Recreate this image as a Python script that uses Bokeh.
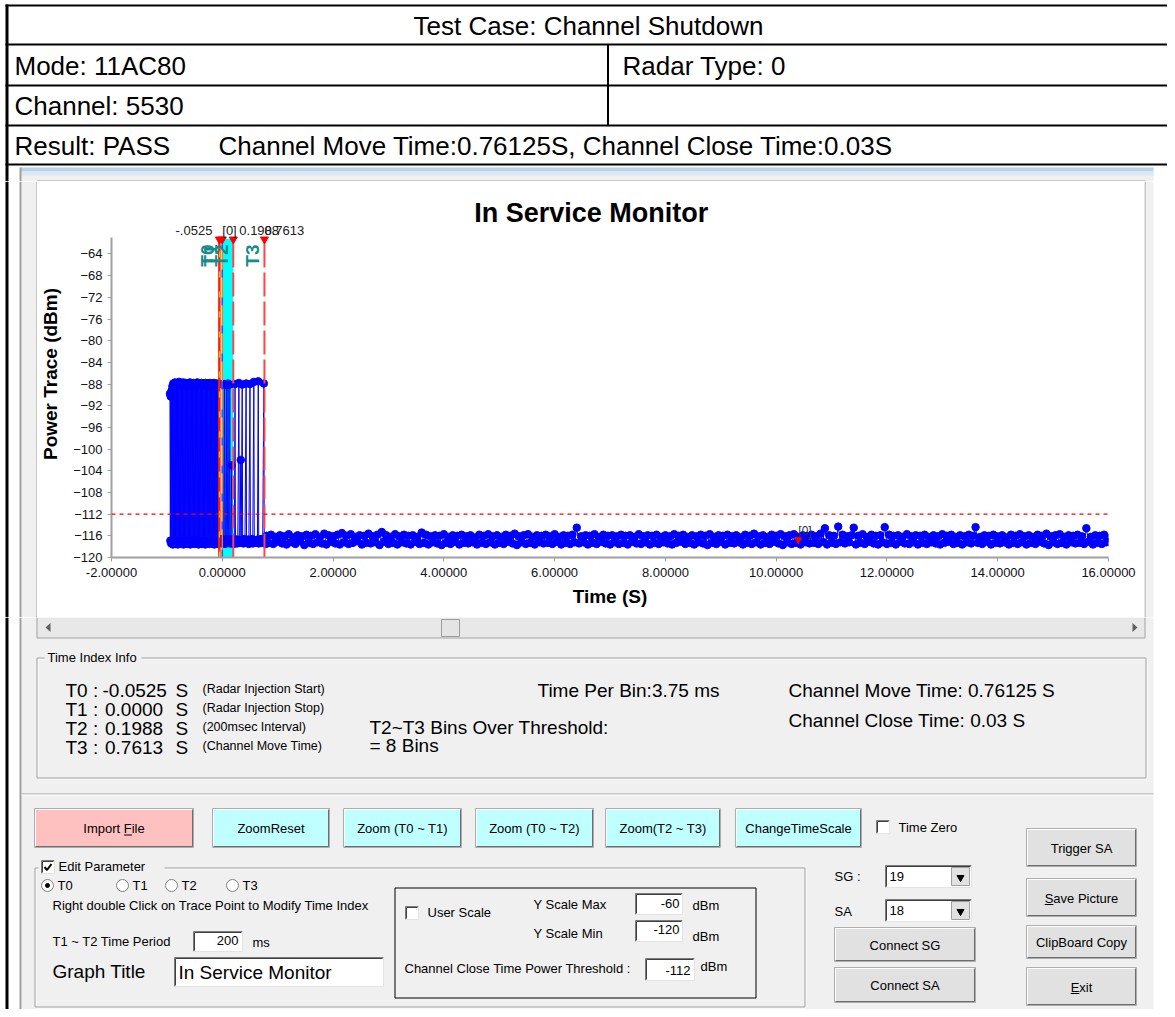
from math import pi
from bokeh.plotting import figure
from bokeh.layouts import column, row
from bokeh.models import Range1d, FixedTicker, PrintfTickFormatter, Span
from bokeh.core.properties import value
from bokeh.embed import file_html
from bokeh.resources import INLINE

FONT = "Liberation Sans"

# ------------------------------------------------------------------ data
table_title = "Test Case: Channel Shutdown"
mode_text = "Mode: 11AC80"
radar_text = "Radar Type: 0"
channel_text = "Channel: 5530"
result_text = "Result: PASS"
result_detail = "Channel Move Time:0.76125S, Channel Close Time:0.03S"

chart_title = "In Service Monitor"
x_label = "Time (S)"
y_label = "Power Trace (dBm)"
x_ticks = [-2, 0, 2, 4, 6, 8, 10, 12, 14, 16]
y_ticks = [-120, -116, -112, -108, -104, -100, -96, -92, -88, -84, -80, -76, -72, -68, -64]

t_names = ["T0", "T1", "T2", "T3"]
t_values = [-0.0525, 0.0, 0.1988, 0.7613]
t_top_labels = ["-.0525", "[0]", "0.1988", "0.7613"]
t_notes = ["(Radar Injection Start)", "(Radar Injection Stop)", "(200msec Interval)", "(Channel Move Time)"]
t_value_text = ["-0.0525", "0.0000", "0.1988", "0.7613"]
threshold_dbm = -112
marker0_t = 10.40
marker0_db = -116.7

# radar burst: alternating high / low bins
burst_start = -0.945
burst_pair_step = 0.015
burst_hi = [-89.8, -90.3, -89.2, -88.4, -87.9, -88.2, -87.7, -88.0, -88.3, -87.8,
            -88.1, -87.6, -88.2, -88.0, -87.9, -88.3, -87.7, -88.1, -88.0, -87.8,
            -88.2, -87.9, -88.4, -88.0, -87.7, -88.1, -87.9, -88.2, -87.8, -88.0,
            -88.3, -87.9, -88.1, -87.7, -88.0, -88.2, -87.9, -88.1, -87.8, -88.3,
            -88.0, -87.9, -88.2, -87.8, -88.0, -88.1, -87.9, -88.3, -87.8, -88.0,
            -88.2, -87.9, -88.1, -87.8, -88.0, -88.2, -87.9, -88.1, -88.0, -87.9]
burst_lo = [-116.9, -117.4, -117.1, -117.6, -117.2, -116.9, -117.5, -117.3, -117.0, -117.6,
            -117.2, -117.4, -116.9, -117.5, -117.1, -117.3, -117.6, -117.0, -117.4, -117.2,
            -116.9, -117.5, -117.3, -117.1, -117.6, -117.2, -117.0, -117.4, -117.3, -117.5,
            -117.1, -116.9, -117.4, -117.2, -117.6, -117.0, -117.3, -117.5, -117.1, -117.4,
            -117.2, -116.9, -117.6, -117.3, -117.0, -117.4, -117.2, -117.5, -117.1, -117.3,
            -116.9, -117.4, -117.2, -117.6, -117.0, -117.3, -117.5, -117.1, -117.4, -117.2]

# after radar stop: floor with isolated bins over threshold
mid_t = [-0.040, -0.025, -0.010, 0.000, 0.008, 0.016, 0.030, 0.040, 0.048, 0.060,
         0.072, 0.080, 0.092, 0.104, 0.112, 0.125, 0.136, 0.144, 0.158, 0.170,
         0.178, 0.192, 0.205, 0.218, 0.230, 0.238, 0.252, 0.266, 0.280, 0.300,
         0.308, 0.322, 0.334, 0.342, 0.360, 0.368, 0.382, 0.396, 0.410, 0.430,
         0.438, 0.452, 0.466, 0.480, 0.500, 0.508, 0.522, 0.536, 0.550, 0.570,
         0.578, 0.592, 0.606, 0.620, 0.635, 0.650, 0.658, 0.672, 0.686, 0.700,
         0.715, 0.730, 0.750, 0.758, 0.772, 0.786]
mid_db = [-117.3, -116.6, -117.4, -116.9, -88.1, -117.2, -116.7, -88.0, -117.5, -116.8,
          -88.2, -117.1, -116.6, -87.9, -117.3, -116.9, -88.1, -117.4, -116.7, -103.0,
          -117.2, -116.8, -117.5, -116.6, -88.0, -117.1, -116.9, -117.4, -116.7, -87.8,
          -117.2, -116.8, -102.0, -117.3, -88.1, -116.9, -117.4, -116.6, -117.2, -87.9,
          -116.8, -117.3, -116.7, -117.5, -88.0, -116.9, -117.2, -116.6, -117.4, -87.6,
          -116.8, -117.3, -116.9, -117.1, -116.7, -87.5, -117.4, -116.8, -117.2, -116.6,
          -117.3, -116.9, -87.9, -117.2, -116.7, -117.5]

# noise floor after channel move (one value every 40 ms)
noise_start = 0.80
noise_step = 0.04
noise_db = [
    -116.0, -117.3, -115.8, -117.5, -116.2, -117.1, -115.9, -117.4, -116.1, -117.6, -115.7, -117.2, -116.3, -117.5, -115.9, -117.0, -116.1, -117.7, -115.8, -117.3,
    -116.0, -117.5, -115.7, -117.2, -116.2, -117.4, -115.6, -117.6, -115.9, -117.1, -116.1, -117.4, -115.8, -117.6, -115.5, -117.2, -116.0, -117.5, -115.7, -117.3,
    -116.2, -117.0, -115.9, -117.6, -116.0, -117.3, -115.6, -117.4, -116.1, -117.2, -115.8, -117.7, -115.3, -117.1, -115.9, -117.5, -116.2, -117.3, -115.7, -117.6,
    -116.1, -117.2, -115.8, -117.4, -116.0, -117.6, -115.9, -117.1, -116.2, -117.5, -115.4, -117.3, -115.8, -117.6, -116.1, -117.2, -115.9, -117.4, -116.0, -117.7,
    -115.7, -117.3, -116.2, -117.5, -115.9, -117.1, -116.0, -117.6, -115.8, -117.3, -116.1, -117.4, -115.9, -117.2, -116.3, -117.6, -115.8, -117.3, -116.0, -117.5,
    -115.7, -117.2, -116.1, -117.6, -115.9, -117.3, -116.2, -117.5, -115.8, -117.1, -116.0, -117.4, -115.6, -117.7, -116.1, -117.2, -115.9, -117.5, -115.7, -117.3,
    -116.2, -117.6, -115.9, -117.2, -116.0, -117.4, -115.8, -117.3, -116.1, -117.5, -115.7, -117.1, -116.2, -117.6, -115.9, -117.3, -116.0, -117.5, -115.8, -117.2,
    -114.5, -117.4, -116.1, -117.2, -115.9, -117.6, -116.0, -117.3, -115.7, -117.5, -116.2, -117.1, -115.8, -117.4, -116.0, -117.6, -115.9, -117.2, -116.1, -117.5,
    -115.8, -117.3, -116.0, -117.6, -115.9, -117.1, -116.2, -117.4, -115.7, -117.5, -116.1, -117.2, -115.9, -117.6, -116.0, -117.3, -115.8, -117.5, -116.2, -117.2,
    -115.9, -117.4, -116.1, -117.6, -115.7, -117.3, -116.0, -117.1, -115.8, -117.5, -116.2, -117.3, -115.9, -117.6, -116.1, -117.2, -115.8, -117.4, -116.0, -117.7,
    -115.7, -117.3, -116.2, -117.5, -115.9, -117.1, -116.0, -117.6, -115.8, -117.3, -116.1, -117.4, -115.9, -117.2, -116.3, -117.6, -115.8, -117.3, -116.0, -117.5,
    -115.6, -117.2, -116.1, -117.6, -115.9, -117.3, -116.2, -117.5, -115.8, -117.1, -116.0, -117.4, -115.7, -117.7, -116.1, -117.2, -115.9, -117.5, -115.7, -117.3,
    -116.2, -117.6, -115.9, -117.2, -116.0, -117.4, -115.8, -117.3, -116.1, -117.5, -115.6, -117.1, -114.6, -117.6, -115.9, -117.3, -116.0, -117.5, -114.3, -117.2,
    -115.8, -117.4, -116.1, -117.2, -115.9, -114.5, -117.6, -116.0, -117.3, -115.7, -117.5, -116.2, -117.1, -115.8, -117.4, -116.0, -117.6, -115.9, -117.2, -114.4,
    -117.5, -115.8, -117.3, -116.0, -117.6, -115.9, -117.1, -116.2, -117.4, -115.7, -117.5, -116.1, -117.2, -115.9, -117.6, -116.0, -117.3, -115.8, -117.5, -116.2,
    -117.2, -115.9, -117.4, -116.1, -117.6, -115.7, -117.3, -116.0, -117.1, -115.8, -117.5, -116.2, -117.3, -115.9, -117.6, -116.1, -117.2, -115.8, -117.4, -116.0,
    -114.4, -117.3, -116.2, -117.5, -115.9, -117.1, -116.0, -117.6, -115.8, -117.3, -116.1, -117.4, -115.9, -117.2, -116.3, -117.6, -115.8, -117.3, -116.0, -117.5,
    -115.7, -117.2, -116.1, -117.6, -115.9, -117.3, -116.2, -117.5, -115.8, -117.1, -116.0, -117.4, -115.6, -117.7, -116.1, -117.2, -115.9, -117.5, -115.7, -117.3,
    -116.2, -117.6, -115.9, -117.2, -116.0, -117.4, -115.8, -117.3, -116.1, -117.5, -114.6, -117.1, -116.2, -117.6, -115.9, -117.3, -116.0, -117.5, -115.8, -117.2,
    -116.4]

# ------------------------------------------------------------------ assemble trace
burst_t, burst_v = [], []
for k, (hi, lo) in enumerate(zip(burst_hi, burst_lo)):
    t0 = burst_start + k * burst_pair_step
    burst_t += [t0, t0 + burst_pair_step / 2]
    burst_v += [hi, lo]
noise_t = [noise_start + i * noise_step for i in range(len(noise_db))]
trace_t = burst_t + mid_t + noise_t
trace_v = burst_v + mid_db + noise_db

BLUE = "#0000ff"
GRAY = "#f0f0f0"
EDGE = "#a0a0a0"

# ------------------------------------------------------------------ helpers
def gui_fig(x0, x1, y0, y1, bg="white"):
    return figure(width=x1 - x0, height=y1 - y0, x_range=Range1d(x0, x1), y_range=Range1d(y1, y0),
                  toolbar_location=None, output_backend="svg", x_axis_type=None, y_axis_type=None,
                  min_border=0, outline_line_color=None, background_fill_color=bg, border_fill_color=bg)


def box(f, l, r, t, b, fill, line=None, lw=1):
    f.quad(left=[l], right=[r], top=[t], bottom=[b], fill_color=fill, line_color=line, line_width=lw)


def seg(f, x0, y0, x1, y1, color, w=1, dash="solid"):
    f.segment(x0=[x0], y0=[y0], x1=[x1], y1=[y1], line_color=color, line_width=w, line_dash=dash)


def txt(f, x, y, s, size=13, align="left", color="black", style="normal", baseline="middle"):
    f.text(x=[x], y=[y], text=[s], text_font=value(FONT), text_font_size=f"{size}px",
           text_align=align, text_baseline=baseline, text_color=color, text_font_style=style)


def button(f, l, r, t, b, label, fill="#e1e1e1", size=13, ul=None):
    box(f, l, r, t, b, fill, "#adadad")
    seg(f, l + 1, t + 1, r - 1, t + 1, "white")
    seg(f, l + 1, t + 1, l + 1, b - 1, "white")
    seg(f, l + 1, b - 1, r - 1, b - 1, "#6d6d6d")
    seg(f, r - 1, t + 1, r - 1, b - 1, "#6d6d6d")
    cy = (t + b) / 2 + 0.5
    txt(f, (l + r) / 2, cy, label, size, align="center")
    if ul is not None:
        seg(f, ul[0], cy + 6.5, ul[1], cy + 6.5, "black")


def textbox(f, l, r, t, b):
    box(f, l, r, t, b, "white", None)
    seg(f, l, t, r, t, "#7a7a7a")
    seg(f, l, t, l, b, "#7a7a7a")
    seg(f, l + 1, t + 1, r - 1, t + 1, "#404040")
    seg(f, l + 1, t + 1, l + 1, b - 1, "#404040")
    seg(f, l, b, r, b, "#e3e3e3")
    seg(f, r, t, r, b, "#e3e3e3")


def checkbox(f, l, t, checked=False):
    textbox(f, l, l + 13, t, t + 13)
    if checked:
        f.line(x=[l + 3, l + 5.5, l + 10], y=[t + 6.5, t + 9.5, t + 3.5], line_color="black", line_width=2)


def radio(f, x, y, selected=False):
    f.scatter(x=[x], y=[y], size=12, fill_color="white", line_color="#808080")
    if selected:
        f.scatter(x=[x], y=[y], size=4, fill_color="black", line_color="black")


def combo(f, l, r, t, b, label):
    textbox(f, l, r, t, b)
    box(f, r - 20, r - 2, t + 2, b - 2, "#e1e1e1", "#a0a0a0")
    f.scatter(x=[r - 11], y=[(t + b) / 2 + 1], marker="inverted_triangle", size=7,
              fill_color="black", line_color="black")
    txt(f, l + 4, (t + b) / 2, label, 13)


def groupbox(f, l, r, t, b):
    f.quad(left=[l + 1], right=[r + 1], top=[t + 1], bottom=[b + 1], fill_color=None,
           line_color="white", line_width=1)
    f.quad(left=[l], right=[r], top=[t], bottom=[b], fill_color=None, line_color=EDGE, line_width=1)


# ------------------------------------------------------------------ top (table)
top = gui_fig(0, 1167, 0, 181)
for yy in [5, 44, 85, 125, 164]:
    seg(top, 5, yy, 1167, yy, "black", 2)
seg(top, 6.5, 4, 6.5, 181, "black", 3)
seg(top, 607.5, 44, 607.5, 125, "black", 2)
txt(top, 588, 25, table_title, 26, align="center")
txt(top, 14, 65, mode_text, 26)
txt(top, 622, 65, radar_text, 26)
txt(top, 14, 105, channel_text, 26)
txt(top, 14, 145, result_text, 26)
txt(top, 218, 145, result_detail, 26)
box(top, 20, 1153, 167, 181, GRAY)
box(top, 20, 1153, 167, 171, "#b9d1ea")
box(top, 20, 1153, 171, 175, "#dce7f3")
seg(top, 20, 167, 20, 181, EDGE, 2)
seg(top, 36.5, 180.5, 1144.5, 180.5, EDGE)

# ------------------------------------------------------------------ left / right strips
left = gui_fig(0, 37, 181, 617)
seg(left, 6.5, 181, 6.5, 617, "black", 3)
box(left, 21, 37, 181, 617, GRAY)
seg(left, 20, 181, 20, 617, EDGE, 2)
seg(left, 36.5, 181, 36.5, 617, EDGE)

right = gui_fig(1144, 1167, 181, 617)
box(right, 1144, 1153, 181, 617, GRAY)
seg(right, 1144.5, 181, 1144.5, 617, EDGE)

# ------------------------------------------------------------------ chart
p = figure(width=1107, height=436, x_range=Range1d(-2, 16), y_range=Range1d(-120, -52.29),
           toolbar_location=None, output_backend="svg",
           min_border_left=73, min_border_right=36, min_border_top=9, min_border_bottom=60,
           background_fill_color="white", border_fill_color="white", outline_line_color=None)
p.xgrid.visible = False
p.ygrid.visible = False

for ax in (p.xaxis[0], p.yaxis[0]):
    ax.axis_line_color = EDGE
    ax.axis_line_width = 2
    ax.major_tick_line_color = EDGE
    ax.major_tick_out = 4
    ax.major_tick_in = 0
    ax.minor_tick_line_color = None
    ax.major_label_text_font = FONT
    ax.major_label_text_font_size = "13px"
    ax.major_label_text_color = "#101018"
    ax.axis_label_text_font = FONT
    ax.axis_label_text_font_size = "19px"
    ax.axis_label_text_font_style = "bold"
    ax.axis_label_text_color = "black"

p.xaxis.ticker = FixedTicker(ticks=x_ticks)
p.xaxis.formatter = PrintfTickFormatter(format="%.5f")
p.xaxis.axis_label = x_label
p.xaxis.major_label_standoff = 6
p.xaxis.axis_label_standoff = 6
p.yaxis.ticker = FixedTicker(ticks=y_ticks)
p.yaxis.axis_label = y_label
p.yaxis.bounds = (-120, -61)
p.yaxis.major_label_standoff = 5
p.yaxis.axis_label_standoff = 9

# T1..T2 interval band
p.quad(left=[t_values[1]], right=[t_values[2]], bottom=[-120], top=[-61.2],
       fill_color="#00ffff", line_color=None)

# trace
p.line(x=trace_t, y=trace_v, line_color=BLUE, line_width=1)
p.scatter(x=trace_t, y=trace_v, size=7.5, fill_color=BLUE, line_color=BLUE)

# threshold
p.add_layout(Span(location=threshold_dbm, dimension="width", line_color="#ff0000",
                  line_width=1.2, line_dash="4 4"))

# time index lines
p.segment(x0=[t_values[0]], y0=[-120], x1=[t_values[0]], y1=[-61.2], line_color="#ff2000", line_width=2.5)
p.segment(x0=[t_values[0]], y0=[-120], x1=[t_values[0]], y1=[-61.2], line_color="#ffd000",
          line_width=1, line_dash="6 14")
p.segment(x0=[t_values[1]], y0=[-120], x1=[t_values[1]], y1=[-61.2], line_color="#ff8000", line_width=1.5)
p.segment(x0=[t_values[1]], y0=[-120], x1=[t_values[1]], y1=[-61.2], line_color="#3050ff",
          line_width=1.5, line_dash="8 20")
p.segment(x0=t_values[2:], y0=[-120, -120], x1=t_values[2:], y1=[-61.2, -61.2],
          line_color="#ff4545", line_width=2, line_dash="24 5")
p.scatter(x=t_values, y=[-61.3] * 4, marker="inverted_triangle", size=8,
          fill_color="#ff0000", line_color="#ff0000")

# labels on top of the index lines
p.text(x=[t_values[0]], y=[-59.7], text=[t_top_labels[0]], text_align="right", text_baseline="middle",
       x_offset=-7, text_font=value(FONT), text_font_size="13px", text_color="#202020")
p.text(x=[t_values[1]], y=[-59.7], text=[t_top_labels[1]], text_align="left", text_baseline="middle",
       x_offset=0, text_font=value(FONT), text_font_size="13px", text_color="#202020")
p.text(x=[t_values[2]], y=[-59.7], text=[t_top_labels[2]], text_align="left", text_baseline="middle",
       x_offset=6, text_font=value(FONT), text_font_size="13px", text_color="#202020")
p.text(x=[t_values[3]], y=[-59.7], text=[t_top_labels[3]], text_align="left", text_baseline="middle",
       x_offset=0, text_font=value(FONT), text_font_size="13px", text_color="#202020")
p.text(x=t_values, y=[-64.3] * 4, text=t_names, angle=pi / 2, x_offset=-12,
       text_align="center", text_baseline="middle", text_font=value(FONT),
       text_font_size="19px", text_font_style="bold", text_color="#158c8c")

# [0] marker
p.scatter(x=[marker0_t], y=[marker0_db], marker="inverted_triangle", size=7,
          fill_color="#ff0000", line_color="#ff0000")
p.text(x=[marker0_t], y=[-115.1], text=["[0]"], text_align="left", text_baseline="middle",
       text_font=value(FONT), text_font_size="12px", text_color="#303030")

# chart title
p.text(x=[6.66], y=[-56.4], text=[chart_title], text_align="center", text_baseline="middle",
       text_font=value(FONT), text_font_size="27px", text_font_style="bold", text_color="black")

# ------------------------------------------------------------------ bottom (controls)
bot = gui_fig(0, 1167, 617, 1009)
seg(bot, 6.5, 617, 6.5, 1009, "black", 3)
box(bot, 21, 1153, 617, 1009, GRAY)
seg(bot, 20, 617, 20, 1009, EDGE, 2)

# scrollbar part of chart panel
box(bot, 37, 1144, 617, 637, "#e8e8e8")
seg(bot, 36.5, 617, 36.5, 637.5, EDGE)
seg(bot, 1144.5, 617, 1144.5, 637.5, EDGE)
seg(bot, 36.5, 637.5, 1144.5, 637.5, EDGE)
bot.patch(x=[45, 50, 50], y=[627, 622.5, 631.5], fill_color="#606060", line_color=None)
bot.patch(x=[1137, 1132, 1132], y=[627, 622.5, 631.5], fill_color="#606060", line_color=None)
box(bot, 441, 459, 619, 636, "#e4e4e4", "#9c9c9c")

# time index info
groupbox(bot, 36.5, 1145.5, 657.5, 777.5)
box(bot, 44, 141, 650, 665, GRAY)
txt(bot, 47, 657, "Time Index Info", 13)
row_y = [690, 709, 728, 747]
for name, val, note, yy in zip(t_names, t_value_text, t_notes, row_y):
    txt(bot, 65, yy, f"{name} :", 19)
    txt(bot, 102 if val.startswith("-") else 104.5, yy, val, 19)
    txt(bot, 175, yy, "S", 19)
    txt(bot, 202, yy - 2, note, 12.5)
txt(bot, 537, 690, "Time Per Bin:3.75 ms", 19)
txt(bot, 369, 727, "T2~T3 Bins Over Threshold:", 19)
txt(bot, 369, 745, "= 8 Bins", 19)
txt(bot, 788, 690, "Channel Move Time: 0.76125  S", 19)
txt(bot, 788, 720, "Channel Close Time: 0.03  S", 19)

# splitter
seg(bot, 21, 793.5, 1153, 793.5, EDGE)
seg(bot, 21, 794.5, 1153, 794.5, "white")

# button row
button(bot, 34, 193, 808, 847, "Import File", "#ffc0c0", ul=(123.5, 131.5))
button(bot, 212, 329, 808, 847, "ZoomReset", "#c0ffff")
button(bot, 343, 461, 808, 847, "Zoom (T0 ~ T1)", "#c0ffff")
button(bot, 475, 593, 808, 847, "Zoom (T0 ~ T2)", "#c0ffff")
button(bot, 605, 720, 808, 847, "Zoom(T2 ~ T3)", "#c0ffff")
button(bot, 735, 861, 808, 847, "ChangeTimeScale", "#c0ffff")
checkbox(bot, 876, 820)
txt(bot, 898, 827, "Time Zero", 13)

button(bot, 1026, 1136, 828, 866, "Trigger SA")
button(bot, 1026, 1136, 878, 916, "Save Picture", ul=(1044.2, 1052.9))
button(bot, 1026, 1136, 925, 958, "ClipBoard Copy")
button(bot, 1026, 1136, 967, 1005, "Exit", ul=(1070.2, 1078.9))

txt(bot, 834, 876, "SG :", 13)
combo(bot, 885, 971, 865, 887, "19")
txt(bot, 834, 911, "SA", 13)
combo(bot, 885, 971, 899, 921, "18")
button(bot, 834, 975, 927, 961, "Connect SG")
button(bot, 834, 975, 967, 1002, "Connect SA")

# edit parameter group
groupbox(bot, 34.5, 804.5, 867.5, 1006.5)
box(bot, 38, 164, 859, 876, GRAY)
checkbox(bot, 41, 860, checked=True)
txt(bot, 58, 866, "Edit Parameter", 13)
for i, (cx, name) in enumerate(zip([47, 122, 171, 232], t_names)):
    radio(bot, cx, 885, selected=(i == 0))
    txt(bot, cx + 10, 885, name, 13)
txt(bot, 52, 905, "Right double Click on Trace Point to Modify Time Index", 13)
txt(bot, 52, 941, "T1 ~ T2 Time Period", 13)
textbox(bot, 193, 242, 931, 951)
txt(bot, 238, 940, "200", 13, align="right")
txt(bot, 252, 942, "ms", 13)
txt(bot, 52, 971, "Graph Title", 19)
textbox(bot, 174, 383, 957, 986)
txt(bot, 178, 972, chart_title, 19)

# user scale box
box(bot, 394.5, 755.5, 887.5, 997.5, None, "black")
checkbox(bot, 405, 906)
txt(bot, 427, 912, "User Scale", 13)
txt(bot, 533, 904, "Y Scale Max", 13)
textbox(bot, 635, 682, 893, 914)
txt(bot, 679, 903, "-60", 13, align="right")
txt(bot, 692, 905, "dBm", 13)
txt(bot, 533, 933, "Y Scale Min", 13)
textbox(bot, 635, 682, 920, 941)
txt(bot, 679, 929, "-120", 13, align="right")
txt(bot, 692, 936, "dBm", 13)
txt(bot, 404, 968, "Channel Close Time Power Threshold :", 13)
textbox(bot, 645, 694, 958, 980)
txt(bot, 690, 970, "-112", 13, align="right")
txt(bot, 700, 966, "dBm", 13)

layout = column(top, row(column(left), p, column(right), spacing=0), bot, spacing=0)
open("out.html", "w").write(file_html(layout, INLINE))
